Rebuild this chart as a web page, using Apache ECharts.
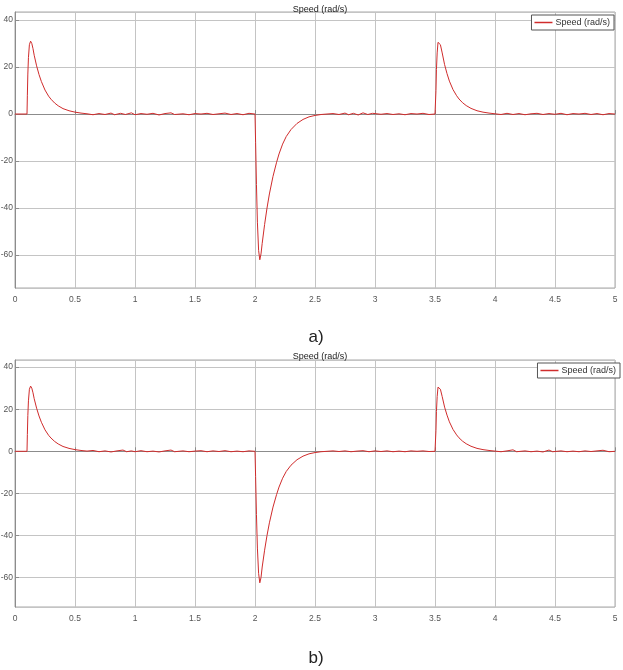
<!DOCTYPE html>
<html>
<head>
<meta charset="utf-8">
<script src="https://cdn.jsdelivr.net/npm/echarts@6/dist/echarts.min.js"></script>
<style>
html,body{margin:0;padding:0;background:#fff;}
#c{width:623px;height:670px;}
</style>
</head>
<body>
<div id="c"></div>
<script>
// ---- data (time in s, speed in rad/s) ----
var xTicks = [0, 0.5, 1, 1.5, 2, 2.5, 3, 3.5, 4, 4.5, 5];
var yTicks = [-60, -40, -20, 0, 20, 40];
var seriesName = 'Speed (rad/s)';

var speedA = [
  [0,0],[0.1,0],[0.103,8],[0.107,17],[0.112,24],[0.12,29.5],[0.13,31],[0.14,30],[0.15,27.8],[0.16,25],
  [0.18,20.5],[0.2,16.8],[0.22,13.8],[0.25,10.2],[0.28,7.6],[0.3,6.3],[0.33,4.7],[0.36,3.5],[0.4,2.3],
  [0.45,1.4],[0.5,0.8],[0.55,0.4],[0.6,0.1],[0.65,-0.3],[0.7,0.2],[0.75,-0.2],[0.8,0.4],[0.83,-0.3],
  [0.88,0.3],[0.92,-0.2],[0.97,0.5],[1.0,-0.3],[1.05,0.2],[1.1,-0.1],[1.15,0.3],[1.2,-0.4],[1.25,0.2],
  [1.3,0.5],[1.33,-0.2],[1.4,0.1],[1.45,-0.3],[1.5,0.2],[1.55,0],[1.6,0.3],[1.65,-0.2],[1.7,0.1],
  [1.75,0.4],[1.8,-0.2],[1.85,0.2],[1.9,-0.3],[1.95,0.3],[2.0,0],
  [2.005,-12],[2.012,-30],[2.02,-46],[2.03,-58],[2.04,-62],[2.05,-59.5],[2.06,-55],[2.08,-47],[2.1,-40],
  [2.12,-34],[2.15,-26.5],[2.18,-20.5],[2.2,-17],[2.23,-12.8],[2.26,-9.6],[2.3,-6.6],[2.35,-4],[2.4,-2.3],
  [2.45,-1.2],[2.5,-0.6],[2.55,-0.2],[2.6,0],[2.65,0.2],[2.7,-0.2],[2.75,0.4],[2.78,-0.3],[2.82,0.3],
  [2.86,-0.4],[2.9,0.5],[2.94,-0.2],[2.98,0.3],[3.05,-0.1],[3.1,0.2],[3.15,-0.2],[3.2,0.1],[3.25,-0.3],
  [3.3,0.2],[3.35,0],[3.4,0.3],[3.45,-0.2],[3.5,0],
  [3.505,0],[3.508,10],[3.512,19],[3.518,26],[3.525,30.5],[3.533,31.2],[3.545,29.5],[3.56,26],[3.58,21],
  [3.6,17.2],[3.62,14],[3.65,10.4],[3.68,7.8],[3.7,6.4],[3.73,4.8],[3.76,3.6],[3.8,2.4],[3.85,1.4],
  [3.9,0.8],[3.95,0.4],[4.0,0.1],[4.05,-0.2],[4.1,0.3],[4.15,-0.2],[4.2,0.2],[4.25,-0.3],[4.3,0.1],
  [4.35,0.3],[4.4,-0.2],[4.45,0.2],[4.5,-0.1],[4.55,0.3],[4.6,-0.3],[4.65,0.2],[4.7,0],[4.75,0.3],
  [4.8,-0.2],[4.85,0.2],[4.9,-0.3],[4.95,0.2],[5.0,0]
];

var speedB = [
  [0,0],[0.1,0],[0.103,8],[0.107,17],[0.112,24],[0.12,29.5],[0.13,31],[0.14,30],[0.15,27.8],[0.16,25],
  [0.18,20.5],[0.2,16.8],[0.22,13.8],[0.25,10.2],[0.28,7.6],[0.3,6.3],[0.33,4.7],[0.36,3.5],[0.4,2.3],
  [0.45,1.4],[0.5,0.8],[0.55,0.4],[0.6,0.1],[0.65,0.4],[0.7,-0.2],[0.75,0.2],[0.8,-0.3],[0.85,0.2],
  [0.9,0.6],[0.93,-0.2],[0.97,0.2],[1.0,-0.2],[1.05,0.3],[1.1,-0.2],[1.15,0.1],[1.2,-0.3],[1.25,0.2],
  [1.3,0.6],[1.33,-0.2],[1.4,0.2],[1.45,-0.2],[1.5,0.1],[1.55,0.3],[1.6,-0.2],[1.65,0.2],[1.7,-0.1],
  [1.75,0.3],[1.8,-0.2],[1.85,0.1],[1.9,-0.2],[1.95,0.2],[2.0,0],
  [2.005,-12],[2.012,-30],[2.02,-46],[2.03,-58],[2.04,-62.5],[2.05,-60],[2.06,-55],[2.08,-47],[2.1,-40],
  [2.12,-34],[2.15,-26.5],[2.18,-20.5],[2.2,-17],[2.23,-12.8],[2.26,-9.6],[2.3,-6.6],[2.35,-4],[2.4,-2.3],
  [2.45,-1.2],[2.5,-0.6],[2.55,-0.2],[2.6,0],[2.65,0.2],[2.7,-0.1],[2.75,0.2],[2.8,-0.2],[2.85,0.1],
  [2.9,0.3],[2.95,-0.2],[3.0,0.2],[3.05,-0.1],[3.1,0.2],[3.15,-0.2],[3.2,0.1],[3.25,-0.2],
  [3.3,0.2],[3.35,0],[3.4,0.2],[3.45,-0.1],[3.5,0],
  [3.505,0],[3.508,10],[3.512,19],[3.518,26],[3.525,30.5],[3.533,31],[3.545,29.5],[3.56,26],[3.58,21],
  [3.6,17.2],[3.62,14],[3.65,10.4],[3.68,7.8],[3.7,6.4],[3.73,4.8],[3.76,3.6],[3.8,2.4],[3.85,1.4],
  [3.9,0.8],[3.95,0.4],[4.0,0.1],[4.05,-0.2],[4.1,0.2],[4.15,0.7],[4.18,-0.2],[4.25,0.2],[4.3,-0.2],
  [4.35,0.1],[4.4,-0.3],[4.45,0.6],[4.48,-0.2],[4.55,0.2],[4.6,-0.2],[4.65,0.1],[4.7,-0.2],[4.75,0.2],
  [4.8,-0.1],[4.85,0.2],[4.9,0.5],[4.95,-0.2],[5.0,0]
];

var yMin = -74, yMax = 43.4;
var panelLabels = ['a)', 'b)'];

// ---- chart ----
var FONT = 'Liberation Sans';
var LINE = '#d02c2c';
var grids = [
  {left: 15, top: 12, width: 600, height: 276},
  {left: 15, top: 360, width: 600, height: 247}
];
function xAxis(i) {
  return {
    type: 'value', gridIndex: i, min: xTicks[0], max: xTicks[xTicks.length - 1], interval: 0.5,
    axisLine: {show: true, lineStyle: {color: '#8c8c8c', width: 1}},
    axisTick: {show: true, inside: true, length: 4, lineStyle: {color: '#8c8c8c'}},
    axisLabel: {color: '#555', fontFamily: FONT, fontSize: 8.5, margin: 7},
    splitLine: {show: true, lineStyle: {color: '#c4c4c4', width: 1}}
  };
}
function yAxis(i) {
  return {
    type: 'value', gridIndex: i, min: yMin, max: yMax, splitNumber: 6,
    axisLine: {show: true, onZero: false, lineStyle: {color: '#8c8c8c', width: 1}},
    axisTick: {show: true, inside: true, length: 4, lineStyle: {color: '#8c8c8c'}},
    axisLabel: {color: '#555', fontFamily: FONT, fontSize: 8.5, margin: 2, showMinLabel: false, showMaxLabel: false,
      formatter: function (v) { return yTicks.indexOf(v) >= 0 ? String(v) : ''; }},
    splitLine: {show: true, lineStyle: {color: '#c4c4c4', width: 1}}
  };
}
function legend(right, top) {
  return {data: [{name: seriesName, itemStyle: {color: LINE, borderWidth: 0}}],
    right: right, top: top, orient: 'vertical', icon: 'rect', itemWidth: 18, itemHeight: 1.5, itemGap: 0,
    itemStyle: {color: LINE, borderWidth: 0},
    padding: [3, 4, 3, 3], borderColor: '#555', borderWidth: 1, backgroundColor: '#fff',
    textStyle: {fontFamily: FONT, fontSize: 9, color: '#333', padding: [0, 0, 0, -2]}, selectedMode: false};
}
function titleText(text, left, top, size) {
  return {text: text, left: left, top: top, textAlign: 'center',
    textStyle: {fontFamily: FONT, fontSize: size, fontWeight: 'normal', color: '#222'}};
}
var chart = echarts.init(document.getElementById('c'), null, {renderer: 'canvas'});
chart.setOption({
  backgroundColor: '#fff',
  animation: false,
  title: [
    titleText(seriesName, 315, 0, 9),
    titleText(seriesName, 315, 347, 9),
    titleText(panelLabels[0], 311, 324, 17),
    titleText(panelLabels[1], 311, 645, 17)
  ],
  legend: [legend(9, 15), legend(3, 363)],
  grid: grids.map(function (g) {
    return Object.assign({show: true, borderColor: '#a8a8a8', borderWidth: 1, backgroundColor: '#fff',
      containLabel: false, outerBoundsMode: 'none'}, g);
  }),
  xAxis: [xAxis(0), xAxis(1)],
  yAxis: [yAxis(0), yAxis(1)],
  series: [
    {name: seriesName, type: 'line', xAxisIndex: 0, yAxisIndex: 0, data: speedA, showSymbol: false, symbol: 'none',
      lineStyle: {color: LINE, width: 1}, itemStyle: {color: LINE}},
    {name: seriesName, type: 'line', xAxisIndex: 1, yAxisIndex: 1, data: speedB, showSymbol: false, symbol: 'none',
      lineStyle: {color: LINE, width: 1}, itemStyle: {color: LINE}}
  ]
});
</script>
</body>
</html>
